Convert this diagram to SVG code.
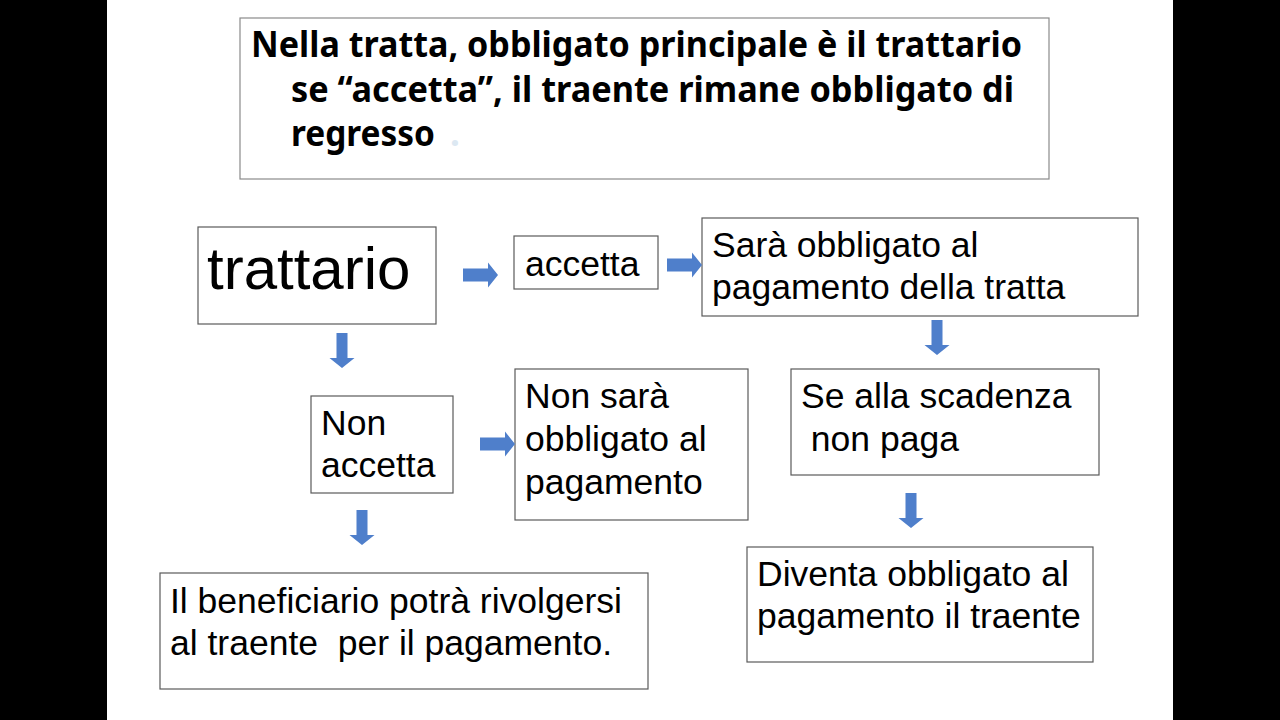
<svg xmlns="http://www.w3.org/2000/svg" width="1280" height="720" viewBox="0 0 1280 720">
<defs>
<style>
.box{fill:#ffffff;stroke:#5a5a5a;stroke-width:1.2}
.tbox{fill:#ffffff;stroke:#8a8a8a;stroke-width:1.2}
.t{font-family:"Liberation Sans",Arial,sans-serif;font-size:35.5px;fill:#000}
.big{font-family:"Liberation Sans",Arial,sans-serif;font-size:60px;fill:#000}
.title{font-family:"Noto Sans","Open Sans",sans-serif;font-weight:bold;font-size:35px;fill:#000}
.arr{fill:#4f7fcb}
</style>
<path id="ah" d="M0,-6.5 H25 V-12.5 L35,0 L25,12.5 V6.5 H0 Z"/>
<path id="av" d="M-5.5,0 V25 H-12.5 L0,35 L12.5,25 H5.5 V0 Z"/>
</defs>
<rect x="0" y="0" width="1280" height="720" fill="#ffffff"/>
<rect x="0" y="0" width="107" height="720" fill="#000"/>
<rect x="1173" y="0" width="107" height="720" fill="#000"/>

<g id="title">
<rect class="tbox" x="240" y="18" width="809" height="161"/>
<text class="title" x="251" y="57" textLength="771" lengthAdjust="spacingAndGlyphs">Nella tratta, obbligato principale è il trattario</text>
<text class="title" x="291" y="102" textLength="723" lengthAdjust="spacingAndGlyphs">se “accetta”, il traente rimane obbligato di</text>
<text class="title" x="291" y="146" textLength="144" lengthAdjust="spacingAndGlyphs">regresso</text>
<text class="title" x="450" y="146" style="fill:#dce8f2">.</text>
</g>

<g id="trattario">
<rect class="box" x="198" y="227" width="238" height="97"/>
<text class="big" x="207" y="289">trattario</text>
</g>

<g id="accetta">
<rect class="box" x="514" y="236" width="144" height="53"/>
<text class="t" x="525" y="276">accetta</text>
</g>

<g id="sara-obbligato">
<rect class="box" x="702" y="218" width="436" height="98"/>
<text class="t" x="712" y="257">Sarà obbligato al</text>
<text class="t" x="712" y="299">pagamento della tratta</text>
</g>

<g id="non-accetta">
<rect class="box" x="311" y="396" width="142" height="97"/>
<text class="t" x="321" y="435">Non</text>
<text class="t" x="321" y="477">accetta</text>
</g>

<g id="non-sara">
<rect class="box" x="515" y="369" width="233" height="151"/>
<text class="t" x="525" y="408">Non sarà</text>
<text class="t" x="525" y="451">obbligato al</text>
<text class="t" x="525" y="494">pagamento</text>
</g>

<g id="se-alla-scadenza">
<rect class="box" x="791" y="369" width="308" height="106"/>
<text class="t" x="801" y="408">Se alla scadenza</text>
<text class="t" x="801" y="451" xml:space="preserve"> non paga</text>
</g>

<g id="diventa">
<rect class="box" x="747" y="547" width="346" height="115"/>
<text class="t" x="757" y="586">Diventa obbligato al</text>
<text class="t" x="757" y="628">pagamento il traente</text>
</g>

<g id="beneficiario">
<rect class="box" x="160" y="573" width="488" height="116"/>
<text class="t" x="170" y="613">Il beneficiario potrà rivolgersi</text>
<text class="t" x="170" y="655" xml:space="preserve">al traente  per il pagamento.</text>
</g>

<g id="connectors" class="arr">
<use href="#ah" x="463" y="275"/>
<use href="#ah" x="667" y="265"/>
<use href="#ah" x="480" y="444"/>
<use href="#av" x="342" y="333"/>
<use href="#av" x="937" y="320"/>
<use href="#av" x="362" y="510"/>
<use href="#av" x="911" y="493"/>
</g>
</svg>
